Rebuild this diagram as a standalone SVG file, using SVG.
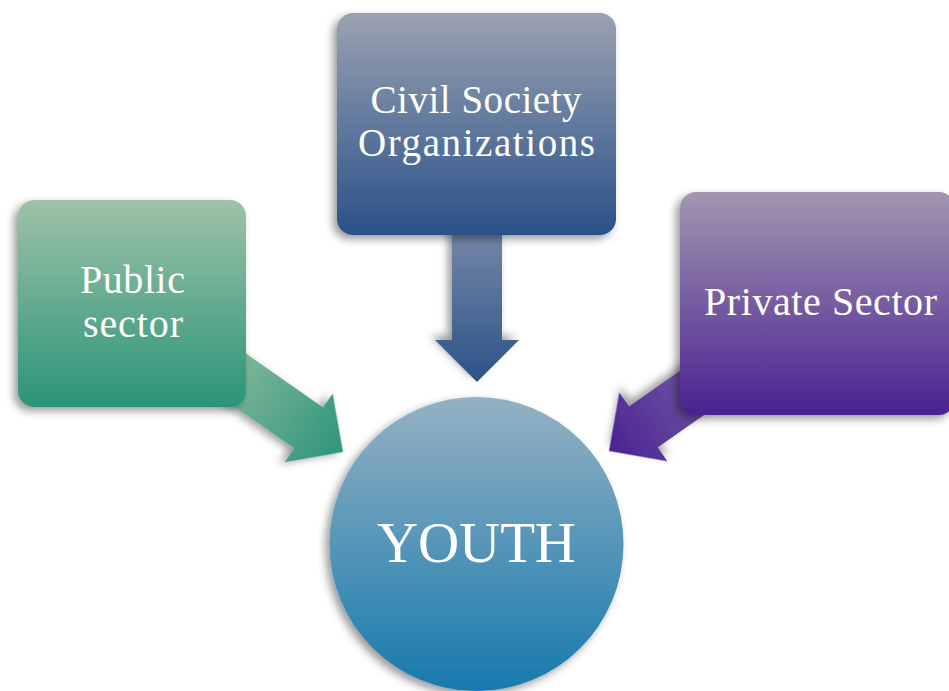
<svg xmlns="http://www.w3.org/2000/svg" width="949" height="691" viewBox="0 0 949 691">
<defs>
<filter id="sh" x="-20%" y="-20%" width="140%" height="140%">
<feDropShadow dx="-4" dy="4" stdDeviation="4" flood-color="#000" flood-opacity="0.4"/>
</filter>
<linearGradient id="gTop" x1="0" y1="0" x2="0" y2="1"><stop offset="0" stop-color="#9aa2b2"/><stop offset="1" stop-color="#2a5189"/></linearGradient>
<linearGradient id="gLeft" x1="0" y1="0" x2="0" y2="1"><stop offset="0" stop-color="#9ec2a7"/><stop offset="1" stop-color="#2a9479"/></linearGradient>
<linearGradient id="gRight" x1="0" y1="0" x2="0" y2="1"><stop offset="0" stop-color="#a296b1"/><stop offset="1" stop-color="#4a2191"/></linearGradient>
<linearGradient id="gCirc" x1="0" y1="0" x2="0" y2="1"><stop offset="0" stop-color="#95b1c3"/><stop offset="1" stop-color="#167aae"/></linearGradient>
<linearGradient id="aTop" x1="0" y1="0" x2="1" y2="0"><stop offset="0" stop-color="#7587a6"/><stop offset="1" stop-color="#2b5288"/></linearGradient>
<linearGradient id="aLeft" x1="0" y1="0" x2="1" y2="0"><stop offset="0" stop-color="#86b99c"/><stop offset="1" stop-color="#2e957b"/></linearGradient>
<linearGradient id="aRight" x1="0" y1="0" x2="1" y2="0"><stop offset="0" stop-color="#7a64a8"/><stop offset="1" stop-color="#4a2391"/></linearGradient>
<path id="arr" d="M-150,-25 L-42,-25 L-42,-42 L0,0 L-42,42 L-42,25 L-150,25 Z"/>
</defs>
<style>
.lbl{font-family:"Liberation Serif","Times New Roman",serif;fill:#ffffff;text-anchor:middle;}
.box{filter:url(#sh);}
</style>
<g id="connectors">
<use href="#arr" fill="url(#aTop)" filter="url(#sh)" transform="translate(477,382) rotate(90)"/>
<use href="#arr" fill="url(#aLeft)" filter="url(#sh)" transform="translate(343,452) rotate(35)"/>
<use href="#arr" fill="url(#aRight)" filter="url(#sh)" transform="translate(609,451) rotate(145)"/>
</g>
<g id="node-cso">
<rect class="box" x="337" y="13" width="279" height="222" rx="16" fill="url(#gTop)"/>
<text class="lbl" x="476" y="113" font-size="39" textLength="211">Civil Society</text>
<text class="lbl" x="476.5" y="156" font-size="39" textLength="237">Organizations</text>
</g>
<g id="node-public">
<rect class="box" x="18" y="200" width="228" height="207" rx="16" fill="url(#gLeft)"/>
<text class="lbl" x="132.5" y="293" font-size="40" textLength="105">Public</text>
<text class="lbl" x="133" y="337" font-size="40" textLength="100">sector</text>
</g>
<g id="node-private">
<rect class="box" x="680" y="192" width="275" height="223" rx="16" fill="url(#gRight)"/>
<text class="lbl" x="820.5" y="315" font-size="40" textLength="233">Private Sector</text>
</g>
<g id="node-youth">
<circle cx="476.5" cy="544" r="147" fill="url(#gCirc)" filter="url(#sh)"/>
<text class="lbl" x="476.5" y="562" font-size="57" textLength="199">YOUTH</text>
</g>
</svg>
